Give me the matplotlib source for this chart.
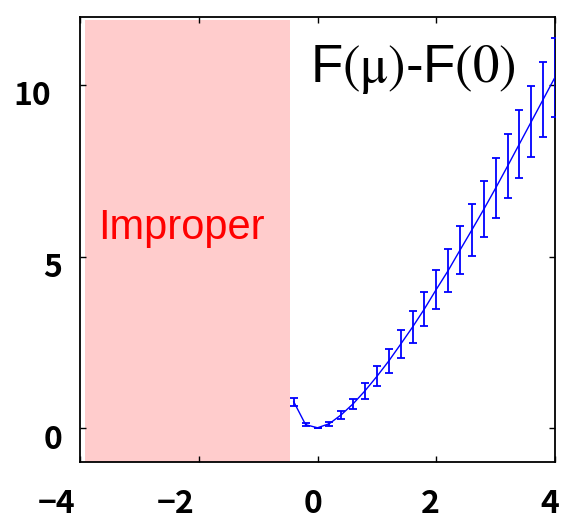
import matplotlib
matplotlib.use("Agg")
import matplotlib.pyplot as plt
import matplotlib.transforms as mtransforms
from matplotlib.font_manager import FontProperties

# Free-energy difference versus mu, with standard errors
mu = [-0.4, -0.2, 0.0, 0.2, 0.4, 0.6, 0.8, 1.0, 1.2, 1.4, 1.6, 1.8,
      2.0, 2.2, 2.4, 2.6, 2.8, 3.0, 3.2, 3.4, 3.6, 3.8, 4.0]
dF = [0.76, 0.09, 0.00, 0.12, 0.38, 0.70, 1.08, 1.50, 1.95, 2.44, 2.94, 3.47,
      4.04, 4.59, 5.19, 5.78, 6.38, 7.00, 7.64, 8.29, 8.94, 9.59, 10.24]
dF_err = [0.12, 0.05, 0.00, 0.06, 0.12, 0.15, 0.23, 0.29, 0.35, 0.41, 0.46, 0.51,
          0.58, 0.63, 0.70, 0.75, 0.82, 0.87, 0.93, 0.99, 1.04, 1.09, 1.15]

# Region where the model is improper
improper_range = [-3.92, -0.46]

x_ticks = [-4, -2, 0, 2, 4]
x_ticklabels = ["\u22124", "\u22122", "0", "2", "4"]
y_ticks = [0, 5, 10]
y_ticklabels = ["0", "5", "10"]

plt.rcParams["mathtext.fontset"] = "stix"

fig = plt.figure(figsize=(5.61, 5.19), dpi=100)
ax = fig.add_axes([80 / 561, 57 / 519, 475 / 561, 445 / 519])

ax.set_xlim(-4, 4)
ax.set_ylim(-1, 12)

ax.axvspan(improper_range[0], improper_range[1], ymin=0, ymax=(11.91 + 1) / 13,
           color="#ffcccc", lw=0, zorder=0)

ax.errorbar(mu, dF, yerr=dF_err, color="#0000ff", lw=1.0, elinewidth=1.3,
            capsize=3.2, capthick=1.3, zorder=3)

ax.text(-3.69, 5.5, "Improper", color="#ff0000", fontsize=30,
        family="Liberation Sans", ha="left", va="baseline")
ax.text(-0.126, 10.11, r"F$\mathrm{(\mu)}$-F$\mathrm{(0)}$", color="black",
        fontsize=38, family="Liberation Sans", ha="left", va="baseline")

ax.set_xticks(x_ticks)
ax.set_xticklabels(x_ticklabels)
ax.set_yticks(y_ticks)
ax.set_yticklabels(y_ticklabels)

tick_font = FontProperties(family=["Noto Sans CJK JP", "DejaVu Sans"],
                           weight="bold", size=23)
for lab in ax.get_xticklabels() + ax.get_yticklabels():
    lab.set_fontproperties(tick_font)

ax.tick_params(direction="in", length=4, width=1.0, top=True, right=True,
               colors="black")
ax.tick_params(axis="x", pad=18.5)
ax.tick_params(axis="y", pad=13)

# Nudge tick labels (points) to their printed positions
x_shift = [-17, -17, -3, -4, -4]
for lab, dx in zip(ax.get_xticklabels(), x_shift):
    lab.set_transform(lab.get_transform() +
                      mtransforms.ScaledTranslation(dx / 72, 0, fig.dpi_scale_trans))
y_shift = [(0, -6), (0, -6), (-8, -5)]
for lab, (dx, dy) in zip(ax.get_yticklabels(), y_shift):
    lab.set_transform(lab.get_transform() +
                      mtransforms.ScaledTranslation(dx / 72, dy / 72, fig.dpi_scale_trans))

for s in ax.spines.values():
    s.set_linewidth(1.3)
    s.set_color("black")

fig.savefig("out.png", dpi=100)
